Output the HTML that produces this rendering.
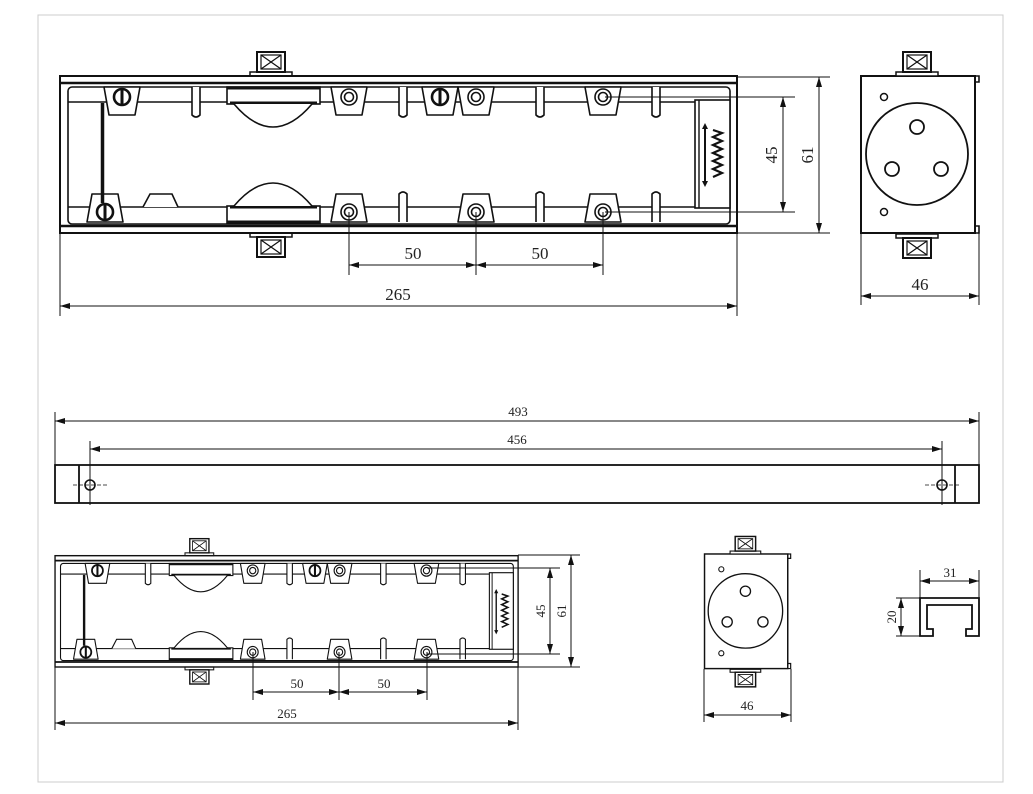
<!DOCTYPE html>
<html><head><meta charset="utf-8"><style>
html,body{margin:0;padding:0;background:#fff;}
svg{display:block;}
text{font-family:"Liberation Serif",serif;fill:#222;}
</style></head><body>
<svg width="1033" height="794" viewBox="0 0 1033 794" xmlns="http://www.w3.org/2000/svg">
<defs>
<marker id="ar" viewBox="0 0 10 6" refX="10" refY="3" markerWidth="10" markerHeight="6" orient="auto-start-reverse" markerUnits="userSpaceOnUse"><path d="M0,0L10,3L0,6z" fill="#111"/></marker>
<g id="boss">
<path d="M-18,-10 L18,-10 L13,18 L-13,18 Z" fill="#fff" stroke="#111" stroke-width="1.6" stroke-linejoin="round"/>
</g>
<g id="bossB">
<path d="M-13,-18 L13,-18 L18,10 L-18,10 Z" fill="#fff" stroke="#111" stroke-width="1.6" stroke-linejoin="round"/>
</g>
<g id="ring"><circle r="8" fill="#fff" stroke="#111" stroke-width="1.6"/><circle r="4.5" fill="none" stroke="#111" stroke-width="1.6"/></g>
<g id="screw"><circle r="8" fill="#fff" stroke="#111" stroke-width="2.6"/><line x1="0" y1="-8" x2="0" y2="8" stroke="#111" stroke-width="3"/></g>
<g id="finT"><path d="M-4,-15 L-4,13 Q0,17 4,13 L4,-15" fill="#fff" stroke="#111" stroke-width="1.6"/></g>
<g id="finB"><path d="M-4,15 L-4,-13 Q0,-17 4,-13 L4,15" fill="#fff" stroke="#111" stroke-width="1.6"/></g>
<g id="lug"><rect x="-7" y="-18" width="42" height="4" fill="#fff" stroke="#111" stroke-width="1.5"/><rect x="0" y="-38" width="28" height="20" fill="#fff" stroke="#111" stroke-width="2"/><rect x="4" y="-35" width="20" height="14" fill="none" stroke="#111" stroke-width="1.2"/><path d="M4,-35L24,-21M24,-35L4,-21" stroke="#111" stroke-width="1.2"/></g>

<g id="body" fill="none" stroke="#111">
<rect x="60" y="76" width="677" height="157" stroke-width="2"/>
<line x1="60" y1="83" x2="737" y2="83" stroke-width="2.5"/>
<line x1="60" y1="226" x2="737" y2="226" stroke-width="2.5"/>
<rect x="68" y="87" width="662" height="137" rx="4" stroke-width="1.6"/>
<line x1="68" y1="102" x2="730" y2="102" stroke-width="1.6"/>
<line x1="68" y1="207" x2="730" y2="207" stroke-width="1.6"/>
<!-- top row -->
<use href="#finT" x="196" y="102"/><use href="#finT" x="403" y="102"/><use href="#finT" x="540" y="102"/><use href="#finT" x="656" y="102"/>
<use href="#boss" x="122" y="97"/><use href="#boss" x="349" y="97"/><use href="#boss" x="440" y="97"/><use href="#boss" x="476" y="97"/><use href="#boss" x="603" y="97"/>
<use href="#screw" x="122" y="97"/><use href="#ring" x="349" y="97"/><use href="#screw" x="440" y="97"/><use href="#ring" x="476" y="97"/><use href="#ring" x="603" y="97"/>
<!-- bottom row -->
<path d="M143,207 L150,194 L172,194 L178,207" fill="#fff" stroke-width="1.6"/>
<use href="#finB" x="403" y="207"/><use href="#finB" x="540" y="207"/><use href="#finB" x="656" y="207"/>
<use href="#bossB" x="105" y="212"/><use href="#bossB" x="349" y="212"/><use href="#bossB" x="476" y="212"/><use href="#bossB" x="603" y="212"/>
<use href="#screw" x="105" y="212"/><circle cx="349" cy="212" r="8" fill="#fff" stroke-width="1.6"/><circle cx="349" cy="212" r="4.5" stroke-width="1.6"/>
<circle cx="476" cy="212" r="8" fill="#fff" stroke-width="1.6"/><circle cx="476" cy="212" r="4.5" stroke-width="1.6"/>
<circle cx="603" cy="212" r="8" fill="#fff" stroke-width="1.6"/><circle cx="603" cy="212" r="4.5" stroke-width="1.6"/>
<!-- left bar -->
<line x1="102.5" y1="103" x2="102.5" y2="203" stroke-width="3.5"/>
<!-- rollers -->
<rect x="227" y="87" width="93" height="17" fill="#fff" stroke-width="1.6"/>
<line x1="227" y1="88" x2="320" y2="88" stroke-width="3"/><line x1="230" y1="103" x2="317" y2="103" stroke-width="3"/>
<path d="M234,104 Q273,150 312,104" fill="#fff" stroke-width="1.6"/>
<rect x="227" y="206" width="93" height="17" fill="#fff" stroke-width="1.6"/>
<line x1="230" y1="207" x2="317" y2="207" stroke-width="3"/><line x1="227" y1="222" x2="320" y2="222" stroke-width="3"/>
<path d="M234,206 Q273,160 312,206" fill="#fff" stroke-width="1.6"/>
<!-- right box -->
<rect x="695" y="100" width="35" height="108" fill="#fff" stroke-width="1.6"/>
<line x1="699" y1="100" x2="699" y2="208" stroke-width="1.4"/>
<line x1="705" y1="126" x2="705" y2="184" stroke-width="2"/>
<path d="M705,123l-3,6h6z M705,187l-3,-6h6z" fill="#111" stroke="none"/>
<path d="M713,130 L722,133 L713,137 L722,141 L713,145 L722,149 L713,153 L722,157 L713,161 L722,165 L713,169 L722,173 L713,177" stroke-width="2.2"/>
</g>

<g id="side" fill="none" stroke="#111">
<rect x="861" y="76" width="114" height="157" fill="#fff" stroke-width="2"/>
<path d="M975,76 L979,76 L979,82 L975,82 M975,226 L979,226 L979,233 L975,233" stroke-width="1.6"/>
<line x1="975" y1="82" x2="975" y2="226" stroke-width="1.4"/>
<circle cx="917" cy="154" r="51" stroke-width="1.8"/>
<circle cx="917" cy="127" r="7" stroke-width="1.8"/>
<circle cx="892" cy="169" r="7" stroke-width="1.8"/>
<circle cx="941" cy="169" r="7" stroke-width="1.8"/>
<circle cx="884" cy="97" r="3.5" stroke-width="1.5"/>
<circle cx="884" cy="212" r="3.5" stroke-width="1.5"/>
<use href="#lug" x="903" y="90"/>
<use href="#lug" x="903" y="90" transform="translate(0,310) scale(1,-1) translate(0,0)"/>
</g>
</defs>

<rect x="38" y="15" width="965" height="767" fill="none" stroke="#ccc" stroke-width="1"/>

<!-- top body -->
<use href="#lug" x="257" y="90"/>
<g transform="translate(0,309) scale(1,-1)"><use href="#lug" x="257" y="90"/></g>
<use href="#body"/>

<!-- top dims -->
<g stroke="#111" stroke-width="1" fill="none">
<line x1="605" y1="97" x2="795" y2="97"/><line x1="605" y1="212" x2="795" y2="212"/>
<line x1="783" y1="97" x2="783" y2="212" marker-start="url(#ar)" marker-end="url(#ar)"/>
<line x1="737" y1="77" x2="830" y2="77"/><line x1="737" y1="233" x2="830" y2="233"/>
<line x1="819" y1="77" x2="819" y2="233" marker-start="url(#ar)" marker-end="url(#ar)"/>
<line x1="349" y1="212" x2="349" y2="275"/><line x1="476" y1="212" x2="476" y2="275"/><line x1="603" y1="212" x2="603" y2="275"/>
<line x1="349" y1="265" x2="476" y2="265" marker-start="url(#ar)" marker-end="url(#ar)"/>
<line x1="476" y1="265" x2="603" y2="265" marker-start="url(#ar)" marker-end="url(#ar)"/>
<line x1="60" y1="233" x2="60" y2="316"/><line x1="737" y1="233" x2="737" y2="316"/>
<line x1="60" y1="306" x2="737" y2="306" marker-start="url(#ar)" marker-end="url(#ar)"/>
<line x1="861" y1="233" x2="861" y2="305"/><line x1="979" y1="233" x2="979" y2="305"/>
<line x1="861" y1="296" x2="979" y2="296" marker-start="url(#ar)" marker-end="url(#ar)"/>
</g>
<text x="413" y="259" font-size="17" text-anchor="middle">50</text>
<text x="540" y="259" font-size="17" text-anchor="middle">50</text>
<text x="398" y="300" font-size="17" text-anchor="middle">265</text>
<text x="920" y="290" font-size="17" text-anchor="middle">46</text>
<text transform="translate(777,155) rotate(-90)" font-size="17" text-anchor="middle">45</text>
<text transform="translate(813,155) rotate(-90)" font-size="17" text-anchor="middle">61</text>

<use href="#side"/>

<!-- long bar -->
<g stroke="#111" fill="none">
<rect x="55" y="465" width="924" height="38" stroke-width="1.8"/>
<line x1="79" y1="465" x2="79" y2="503" stroke-width="1.8"/>
<line x1="955" y1="465" x2="955" y2="503" stroke-width="1.8"/>
<circle cx="90" cy="485" r="5" stroke-width="1.6"/><circle cx="942" cy="485" r="5" stroke-width="1.6"/>
<line x1="73" y1="485" x2="107" y2="485" stroke-width="0.8" stroke-dasharray="4,2"/>
<line x1="925" y1="485" x2="959" y2="485" stroke-width="0.8" stroke-dasharray="4,2"/>
<line x1="55" y1="412" x2="55" y2="465" stroke-width="1"/><line x1="979" y1="412" x2="979" y2="465" stroke-width="1"/>
<line x1="90" y1="441" x2="90" y2="505" stroke-width="1"/><line x1="942" y1="441" x2="942" y2="505" stroke-width="1"/>
<line x1="55" y1="421" x2="979" y2="421" stroke-width="1" marker-start="url(#ar)" marker-end="url(#ar)"/>
<line x1="90" y1="449" x2="942" y2="449" stroke-width="1" marker-start="url(#ar)" marker-end="url(#ar)"/>
</g>
<text x="518" y="416" font-size="13" text-anchor="middle">493</text>
<text x="517" y="444" font-size="13" text-anchor="middle">456</text>

<!-- bottom body -->
<g transform="translate(14,501.8) scale(0.684,0.709)">
<use href="#lug" x="257" y="90"/>
<g transform="translate(0,309) scale(1,-1)"><use href="#lug" x="257" y="90"/></g>
<use href="#body"/>
</g>
<g stroke="#111" stroke-width="1" fill="none">
<line x1="427" y1="568" x2="560" y2="568"/><line x1="427" y1="654" x2="560" y2="654"/>
<line x1="550" y1="568" x2="550" y2="654" marker-start="url(#ar)" marker-end="url(#ar)"/>
<line x1="518" y1="555" x2="580" y2="555"/><line x1="518" y1="667" x2="580" y2="667"/>
<line x1="571" y1="555" x2="571" y2="667" marker-start="url(#ar)" marker-end="url(#ar)"/>
<line x1="253" y1="652" x2="253" y2="700"/><line x1="339" y1="652" x2="339" y2="700"/><line x1="427" y1="652" x2="427" y2="700"/>
<line x1="253" y1="692" x2="339" y2="692" marker-start="url(#ar)" marker-end="url(#ar)"/>
<line x1="339" y1="692" x2="427" y2="692" marker-start="url(#ar)" marker-end="url(#ar)"/>
<line x1="55" y1="667" x2="55" y2="730"/><line x1="518" y1="667" x2="518" y2="730"/>
<line x1="55" y1="723" x2="518" y2="723" marker-start="url(#ar)" marker-end="url(#ar)"/>
</g>
<text x="297" y="688" font-size="13" text-anchor="middle">50</text>
<text x="384" y="688" font-size="13" text-anchor="middle">50</text>
<text x="287" y="718" font-size="13" text-anchor="middle">265</text>
<text transform="translate(545,611) rotate(-90)" font-size="13" text-anchor="middle">45</text>
<text transform="translate(566,611) rotate(-90)" font-size="13" text-anchor="middle">61</text>

<!-- small side view -->
<g transform="translate(76,498.5) scale(0.73)"><use href="#side"/></g>
<g stroke="#111" stroke-width="1" fill="none">
<line x1="704" y1="669" x2="704" y2="722"/><line x1="791" y1="669" x2="791" y2="722"/>
<line x1="704" y1="715" x2="791" y2="715" marker-start="url(#ar)" marker-end="url(#ar)"/>
</g>
<text x="747" y="710" font-size="13" text-anchor="middle">46</text>

<!-- profile -->
<g stroke="#111" fill="none">
<path d="M920,598 L979,598 L979,636 L966,636 L966,629 L972,629 L972,605 L927,605 L927,629 L933,629 L933,636 L920,636 Z" stroke-width="1.8"/>
<line x1="920" y1="570" x2="920" y2="598" stroke-width="1"/><line x1="979" y1="570" x2="979" y2="598" stroke-width="1"/>
<line x1="920" y1="581" x2="979" y2="581" stroke-width="1" marker-start="url(#ar)" marker-end="url(#ar)"/>
<line x1="896" y1="598" x2="920" y2="598" stroke-width="1"/><line x1="896" y1="636" x2="920" y2="636" stroke-width="1"/>
<line x1="901" y1="598" x2="901" y2="636" stroke-width="1" marker-start="url(#ar)" marker-end="url(#ar)"/>
</g>
<text x="950" y="577" font-size="13" text-anchor="middle">31</text>
<text transform="translate(896,617) rotate(-90)" font-size="13" text-anchor="middle">20</text>
</svg>
</body></html>
